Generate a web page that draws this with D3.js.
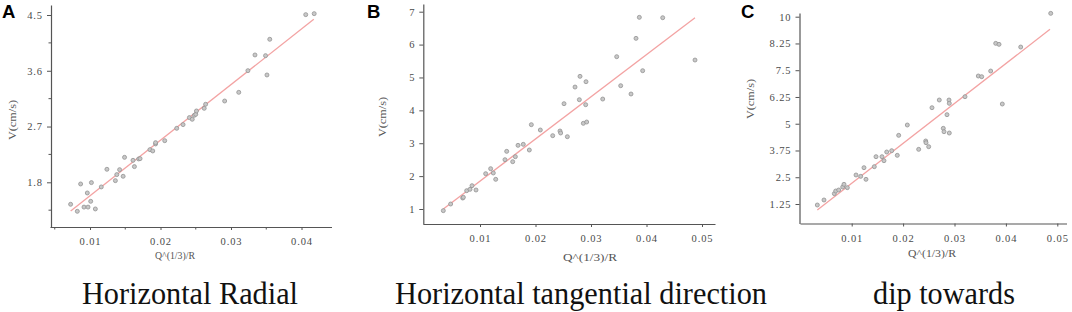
<!DOCTYPE html>
<html>
<head>
<meta charset="utf-8">
<script src="https://cdn.jsdelivr.net/npm/d3@7"></script>
<style>
  body { margin: 0; background: #fff; }
  svg { display: block; }
</style>
</head>
<body>
<svg id="chart" width="1072" height="312"></svg>
<script>
// ---------------- data ----------------
// A: horizontal radial
const radialQ = [0.00725, 0.0082, 0.00867, 0.00915, 0.00972, 0.00962, 0.0101, 0.0102, 0.01076, 0.0116,
  0.0124, 0.0136, 0.0138, 0.0142, 0.0147, 0.0149, 0.0161, 0.0163, 0.0169, 0.0171,
  0.0185, 0.0189, 0.0193, 0.0193, 0.0206, 0.0223, 0.0232, 0.0241, 0.0245, 0.0248,
  0.0250, 0.0251, 0.0262, 0.0264, 0.0291, 0.0311, 0.0324, 0.0334, 0.0349, 0.0351,
  0.0355, 0.0406, 0.0418];
const radialV = [1.445, 1.332, 1.773, 1.40, 1.40, 1.628, 1.493, 1.795, 1.37, 1.725,
  2.01, 1.827, 1.924, 2.004, 1.897, 2.203, 2.155, 2.053, 2.177, 2.182,
  2.327, 2.306, 2.419, 2.44, 2.472, 2.671, 2.731, 2.844, 2.817, 2.881,
  2.897, 2.951, 2.994, 3.059, 3.112, 3.252, 3.602, 3.855, 3.844, 3.532,
  4.108, 4.506, 4.522];
const radialFitQ = [0.00726, 0.04174];
const radialFitV = [1.337, 4.43];

// B: horizontal tangential direction
const tangQ = [0.00339, 0.00471, 0.00688, 0.0070, 0.0076, 0.0082, 0.00856, 0.00928, 0.01102, 0.01192,
  0.0124, 0.01283, 0.0145, 0.01481, 0.01589, 0.01637, 0.01685, 0.0178, 0.01889, 0.01925,
  0.02087, 0.0231, 0.02441, 0.02453, 0.02514, 0.02574, 0.02712, 0.0279, 0.02802, 0.02862,
  0.02904, 0.0291, 0.02922, 0.03211, 0.03463, 0.03535, 0.03721, 0.03811, 0.03871, 0.03931,
  0.04292, 0.04874];
const tangV = [0.95, 1.152, 1.334, 1.355, 1.557, 1.598, 1.709, 1.578, 2.074, 2.226,
  2.095, 1.902, 2.50, 2.753, 2.439, 2.591, 2.936, 2.966, 2.794, 3.564,
  3.402, 3.23, 3.372, 3.311, 4.203, 3.199, 4.709, 4.324, 5.034, 3.605,
  4.172, 4.871, 3.645, 4.344, 5.632, 4.75, 4.497, 6.189, 6.828, 5.206,
  6.817, 5.53];
const tangFitQ = [0.00339, 0.04874];
const tangFitV = [1.0, 6.817];

// C: dip towards
const dipQ = [0.00331, 0.00461, 0.00662, 0.00689, 0.00747, 0.00825, 0.0085, 0.00915, 0.01084, 0.01175,
  0.01239, 0.01278, 0.0144, 0.01473, 0.01589, 0.01628, 0.01681, 0.01778, 0.01887, 0.01914,
  0.02082, 0.02303, 0.0244, 0.02446, 0.02498, 0.02562, 0.02704, 0.02782, 0.02796, 0.02854,
  0.02893, 0.02899, 0.02899, 0.03204, 0.03463, 0.03529, 0.03704, 0.03802, 0.03866, 0.0393,
  0.04288, 0.04872];
const dipV = [1.203, 1.437, 1.733, 1.857, 1.904, 2.044, 2.169, 2.013, 2.605, 2.542,
  2.947, 2.402, 2.994, 3.461, 3.461, 3.274, 3.679, 3.741, 3.523, 4.457,
  4.94, 3.803, 4.193, 4.115, 3.928, 5.749, 6.108, 4.784, 4.628, 5.423,
  6.108, 5.952, 4.566, 6.263, 7.229, 7.197, 7.462, 8.754, 8.708, 5.921,
  8.583, 10.156];
const dipFitQ = [0.00331, 0.04858];
const dipFitV = [0.97, 9.41];

// ticks
const radialXTicks = [0.01, 0.02, 0.03, 0.04];
const radialXMinor = [0.005, 0.015, 0.025, 0.035];
const radialYTicks = [1.8, 2.7, 3.6, 4.5];
const radialYMinor = [1.35, 2.25, 3.15, 4.05];
const tangXTicks = [0.01, 0.02, 0.03, 0.04, 0.05];
const tangYTicks = [1, 2, 3, 4, 5, 6, 7];
const dipXTicks = [0.01, 0.02, 0.03, 0.04, 0.05];
const dipYTicks = [1.25, 2.5, 3.75, 5, 6.25, 7.5, 8.75, 10];
const dipYLabels = ["1.25", "2.5", "3.75", "5", "6.25", "7.5", "8.25", "10"];

const xTitle = "Q^(1/3)/R";
const yTitle = "V(cm/s)";
const panelTitles = ["Horizontal Radial", "Horizontal tangential direction", "dip towards"];
const panelLetters = ["A", "B", "C"];

// ---------------- layout ----------------
// each panel: two anchor ticks per axis give the scale, axis extents in px
const panels = [
  { letter: panelLetters[0], title: panelTitles[0], q: radialQ, v: radialV, fq: radialFitQ, fv: radialFitV,
    xa: [0.01, 0.04], xr: [90, 301.5], xExt: [50, 331.5], xAxisY: 227,
    ya: [1.8, 4.5], yr: [182.3, 15], yExt: [227, 5], yAxisX: 51,
    xt: radialXTicks, xm: radialXMinor, yt: radialYTicks, ym: radialYMinor, yl: null,
    letterX: 2, titleX: 190, titleW: 216, xlabX: 175, xlabY: 259, xlabW: 40, ylabX: 16, ylabY: 120 },
  { letter: panelLetters[1], title: panelTitles[1], q: tangQ, v: tangV, fq: tangFitQ, fv: tangFitV,
    xa: [0.01, 0.05], xr: [480, 702], xExt: [423, 715], xAxisY: 224,
    ya: [1, 7], yr: [209, 11.7], yExt: [224, 4], yAxisX: 423.3,
    xt: tangXTicks, xm: [], yt: tangYTicks, ym: [], yl: null,
    letterX: 367, titleX: 581, titleW: 372, xlabX: 590, xlabY: 261, xlabW: 54, ylabX: 386, ylabY: 117 },
  { letter: panelLetters[2], title: panelTitles[2], q: dipQ, v: dipV, fq: dipFitQ, fv: dipFitV,
    xa: [0.01, 0.05], xr: [851.7, 1057.3], xExt: [800, 1066.5], xAxisY: 223.5,
    ya: [1.25, 10], yr: [204, 16.7], yExt: [223.5, 13], yAxisX: 799.5,
    xt: dipXTicks, xm: [], yt: dipYTicks, ym: [], yl: dipYLabels,
    letterX: 741, titleX: 944, titleW: 142, xlabX: 932, xlabY: 257, xlabW: 48, ylabX: 754, ylabY: 99 }
];

const svg = d3.select("#chart");
const axisColor = "#555";
const tickFont = "'Liberation Serif', 'Times New Roman', serif";

panels.forEach(function(p) {
  const xs = d3.scaleLinear().domain(p.xa).range(p.xr);
  const ys = d3.scaleLinear().domain(p.ya).range(p.yr);
  // stretch the domain so the axis line covers the full drawn extent
  xs.domain([xs.invert(p.xExt[0]), xs.invert(p.xExt[1])]).range(p.xExt);
  ys.domain([ys.invert(p.yExt[0]), ys.invert(p.yExt[1])]).range(p.yExt);

  const g = svg.append("g");

  // x axis
  const gx = g.append("g")
    .attr("transform", "translate(0," + p.xAxisY + ")")
    .call(d3.axisBottom(xs).tickValues(p.xt).tickSize(3).tickSizeOuter(0).tickPadding(8)
      .tickFormat(d3.format(".2f")));
  if (p.xm.length) {
    gx.selectAll(".minor").data(p.xm).enter().append("line")
      .attr("x1", d => xs(d)).attr("x2", d => xs(d))
      .attr("y1", 0).attr("y2", 2.5);
  }

  // y axis
  const gy = g.append("g")
    .attr("transform", "translate(" + p.yAxisX + ",0)")
    .call(d3.axisLeft(ys).tickValues(p.yt).tickSize(4).tickSizeOuter(0).tickPadding(4)
      .tickFormat((d, i) => p.yl ? p.yl[i] : String(d)));
  if (p.ym.length) {
    gy.selectAll(".minor").data(p.ym).enter().append("line")
      .attr("x1", 0).attr("x2", -2.5)
      .attr("y1", d => ys(d)).attr("y2", d => ys(d));
  }

  [gx, gy].forEach(function(a) {
    a.select(".domain").attr("stroke", axisColor).attr("stroke-width", 1.2);
    a.selectAll("line").attr("stroke", axisColor);
    a.selectAll("text").attr("fill", "#4a4a4a").style("font-family", tickFont)
      .style("font-size", "10.5px").style("letter-spacing", "0.9px");
  });

  // fit line
  const fit = d3.zip(p.fq, p.fv);
  g.append("path")
    .datum(fit)
    .attr("fill", "none")
    .attr("stroke", "#f3a3a3")
    .attr("stroke-width", 1.3)
    .attr("d", d3.line().x(d => xs(d[0])).y(d => ys(d[1])));

  // points
  g.selectAll(".pt").data(d3.zip(p.q, p.v)).enter().append("circle")
    .attr("cx", d => xs(d[0]))
    .attr("cy", d => ys(d[1]))
    .attr("r", 2)
    .attr("fill", "#c8c8c8")
    .attr("stroke", "#939393")
    .attr("stroke-width", 0.8);

  // axis titles
  g.append("text")
    .attr("x", p.xlabX).attr("y", p.xlabY)
    .attr("text-anchor", "middle")
    .attr("textLength", p.xlabW).attr("lengthAdjust", "spacingAndGlyphs")
    .style("font-family", tickFont).style("font-size", "10.5px")
    .attr("fill", "#555")
    .text(xTitle);

  g.append("text")
    .attr("transform", "translate(" + p.ylabX + "," + p.ylabY + ") rotate(-90)")
    .attr("text-anchor", "middle")
    .attr("textLength", 40).attr("lengthAdjust", "spacingAndGlyphs")
    .style("font-family", tickFont).style("font-size", "10.5px")
    .attr("fill", "#555")
    .text(yTitle);

  // panel letter
  g.append("text")
    .attr("x", p.letterX).attr("y", 18)
    .style("font-family", "'Liberation Sans', Arial, sans-serif")
    .style("font-size", "18.5px").style("font-weight", "bold")
    .attr("fill", "#000")
    .text(p.letter);

  // caption under the panel
  g.append("text")
    .attr("x", p.titleX).attr("y", 304)
    .attr("text-anchor", "middle")
    .attr("textLength", p.titleW).attr("lengthAdjust", "spacingAndGlyphs")
    .style("font-family", "'Liberation Serif', 'Times New Roman', serif")
    .style("font-size", "31px")
    .attr("fill", "#111")
    .text(p.title);
});
</script>
</body>
</html>
